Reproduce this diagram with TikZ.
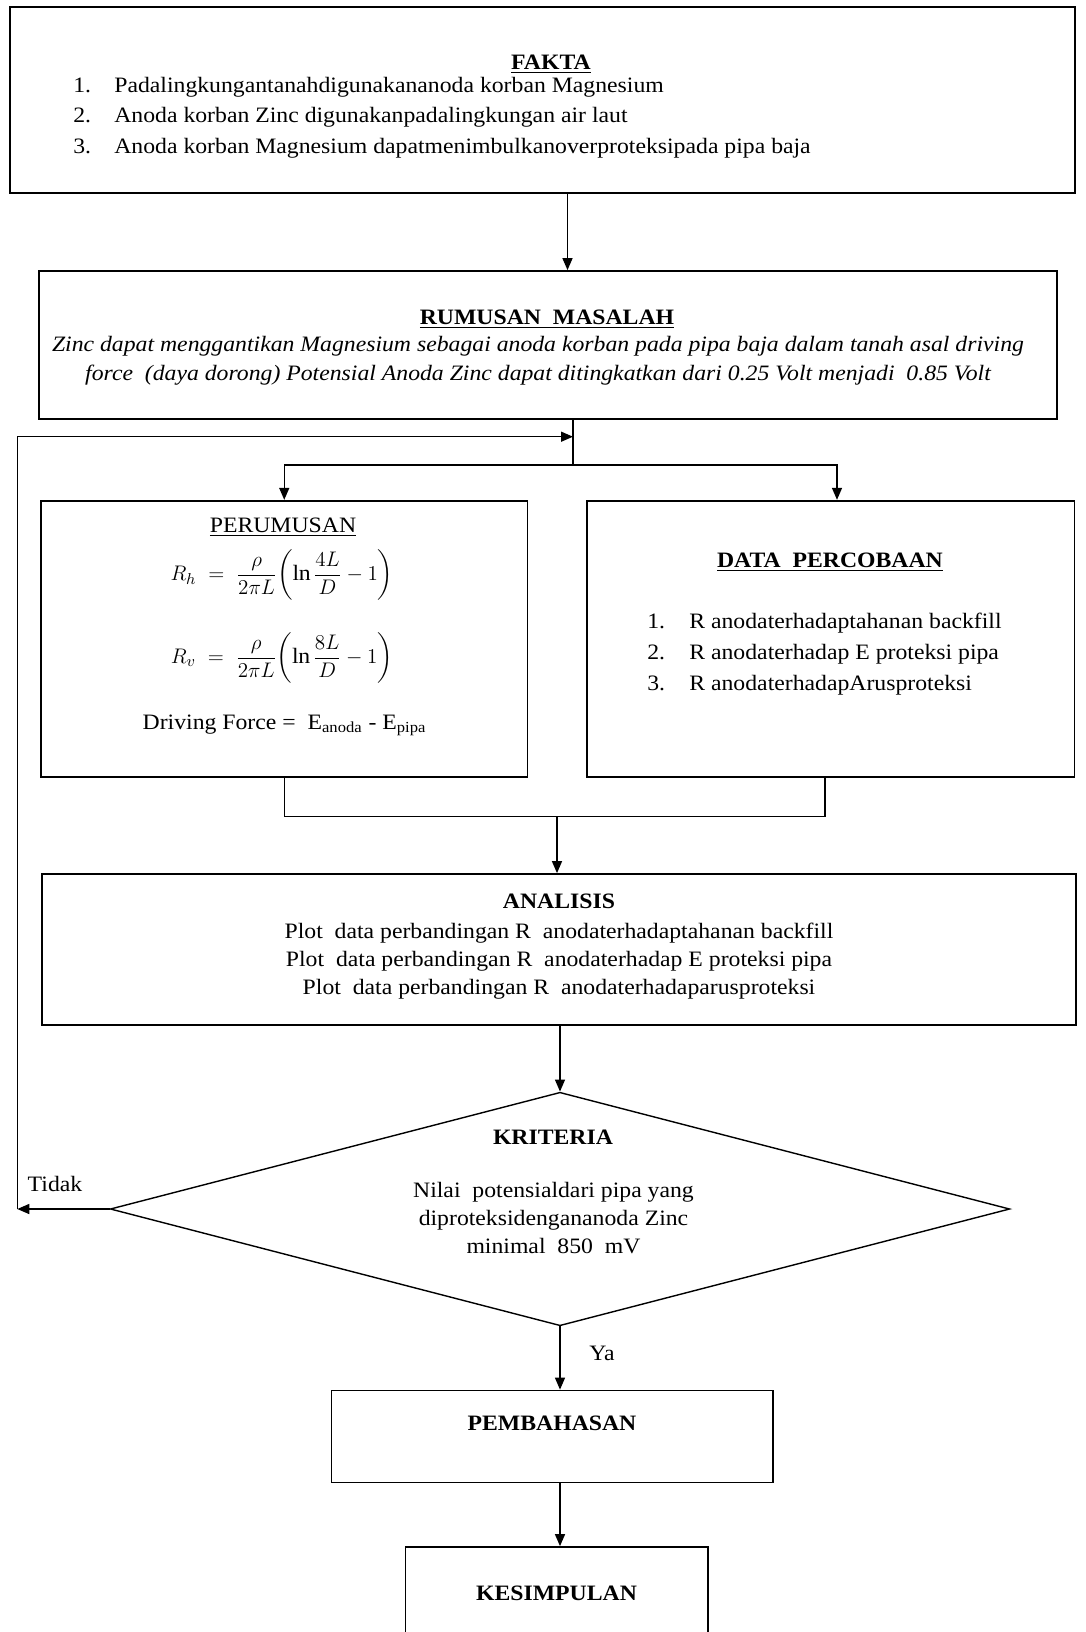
\documentclass[tikz,border=0pt]{standalone}
\usepackage{fontspec}
\setmainfont{Liberation Serif}[FakeStretch=1.08]
\usepackage{amsmath}
\usepackage{tikz}
\usetikzlibrary{calc}
\usetikzlibrary{arrows.meta}
\usetikzlibrary{shapes.geometric}

\begin{document}
\begin{tikzpicture}[%
  >={Triangle[length=0.24cm, width=0.2cm]},
  box/.style={draw, line width=1pt, rectangle, inner sep=0pt},
  choice/.style={draw, line width=0.8pt, diamond, inner sep=0pt},
  txt/.style={inner sep=0pt, font=\fontsize{12.5}{#1}\selectfont},
  txt/.default=16.5pt,
  slanted/.style={inner sep=0pt, font=\fontsize{12.5}{16.5}\selectfont\itshape},
  line/.style={line width=0.8pt},
]

  \useasboundingbox (0,0) rectangle (21.7,-32.64);
  \clip (0,0) rectangle (21.7,-32.64);

  \node[box, minimum width=21.29cm, minimum height=3.71cm] (fakta) at (10.85,-2.0) {};
  \node[box, minimum width=20.35cm, minimum height=2.96cm] (rumusan) at (10.96,-6.90) {};
  \node[box, minimum width=9.73cm, minimum height=5.52cm] (perumusan) at (5.685,-12.774) {};
  \node[box, minimum width=9.75cm, minimum height=5.52cm] (data) at (16.615,-12.774) {};
  \node[box, minimum width=20.68cm, minimum height=3.02cm] (analisis) at (11.18,-18.99) {};
  \node[choice, minimum width=17.99cm, minimum height=4.67cm] (kriteria) at (11.2,-24.18) {};
  \node[box, minimum width=8.83cm, minimum height=1.84cm] (pembahasan) at (11.045,-28.73) {};
  \node[box, minimum width=6.05cm, minimum height=1.86cm] (kesimpulan) at (11.135,-31.87) {};

  \node[txt] (fakta-title) at (11.02,-1.28) {\textbf{\underline{FAKTA}}};
  \node[txt=17.4pt, align=left, anchor=west] (fakta-list) at (1.46,-2.35) {%
    \makebox[0.82cm][l]{1.}Padalingkungantanahdigunakananoda korban Magnesium\\
    \makebox[0.82cm][l]{2.}Anoda korban Zinc\ digunakanpadalingkungan air\ laut\\
    \makebox[0.82cm][l]{3.}Anoda korban Magnesium\ dapatmenimbulkanoverproteksipada pipa baja};

  \node[txt] (rumusan-title) at (10.94,-6.38) {\textbf{\underline{RUMUSAN\ \ MASALAH}}};
  \node[slanted, align=center] (rumusan-text) at (10.76,-7.21) {%
    Zinc dapat menggantikan Magnesium sebagai anoda korban pada pipa baja dalam tanah asal driving\\
    force\ \ (daya dorong) Potensial Anoda Zinc dapat ditingkatkan dari 0.25 Volt menjadi\ \ 0.85 Volt};

  \node[txt] (perumusan-title) at (5.66,-10.55) {\underline{PERUMUSAN}};
  \node[txt] (rh) at (5.64,-11.5) {$R_h\ =\ \dfrac{\rho}{2\pi L}\biggl(\ln\dfrac{4L}{D}-1\biggr)$};
  \node[txt] (rv) at (5.64,-13.16) {$R_v\ =\ \dfrac{\rho}{2\pi L}\biggl(\ln\dfrac{8L}{D}-1\biggr)$};
  \node[txt] (driving) at (5.69,-14.5) {Driving Force =\ \ E\textsubscript{anoda} - E\textsubscript{pipa}};

  \node[txt] (data-title) at (16.6,-11.24) {\textbf{\underline{DATA\ \ PERCOBAAN}}};
  \node[txt=17.5pt, align=left, anchor=west] (data-list) at (12.94,-13.08) {%
    \makebox[0.84cm][l]{1.}R anodaterhadaptahanan backfill\\
    \makebox[0.84cm][l]{2.}R anodaterhadap E proteksi pipa\\
    \makebox[0.84cm][l]{3.}R anodaterhadapArusproteksi};

  \node[txt] (analisis-title) at (11.18,-18.02) {\textbf{ANALISIS}};
  \node[txt=15.9pt, align=center] (analisis-text) at (11.18,-19.22) {%
    Plot\ \ data perbandingan R\ \ anodaterhadaptahanan backfill\\
    Plot\ \ data perbandingan R\ \ anodaterhadap E proteksi pipa\\
    Plot\ \ data perbandingan R\ \ anodaterhadaparusproteksi};

  \node[txt] (kriteria-title) at (11.06,-22.74) {\textbf{KRITERIA}};
  \node[txt=16.2pt, align=center] (kriteria-text) at (11.07,-24.36) {%
    Nilai\ \ potensialdari pipa yang\\
    diproteksidengananoda Zinc\\
    minimal\ \ 850\ \ mV};

  \node[txt] (pembahasan-title) at (11.04,-28.46) {\textbf{PEMBAHASAN}};
  \node[txt] (kesimpulan-title) at (11.13,-31.86) {\textbf{KESIMPULAN}};

  \node[txt] (tidak) at (1.1,-23.68) {Tidak};
  \node[txt] (ya) at (12.04,-27.06) {Ya};

  \coordinate (c1) at (11.35,0);
  \coordinate (split) at (11.46,-9.3);
  \coordinate (right) at (16.74,-9.3);
  \coordinate (loop) at (11.46,-8.734);
  \coordinate (back) at (0.346,0);
  \coordinate (merge) at (11.14,-16.334);
  \coordinate (mright) at (16.5,-16.334);

  \draw[line,->] (fakta.south -| c1) -- (rumusan.north -| c1);
  \draw[line] (rumusan.south -| split) -- (split);
  \draw[line,->] (split) -| (perumusan.north);
  \draw[line,->] (split) -- (right) -- (data.north -| right);

  \draw[line] (perumusan.south) |- (mright) -- (data.south -| mright);
  \draw[line,->] (merge) -- (analisis.north -| merge);
  \draw[line,->] (analisis.south -| kriteria.north) -- (kriteria.north);

  \draw[line,->] (kriteria.west) -- (kriteria.west -| back);
  \draw[line,->] (kriteria.west -| back) |- (loop);
  \draw[line,->] (kriteria.south) -- (pembahasan.north -| kriteria.south);
  \draw[line,->] (pembahasan.south -| kriteria.south) -- (kesimpulan.north -| kriteria.south);

\end{tikzpicture}
\end{document}
